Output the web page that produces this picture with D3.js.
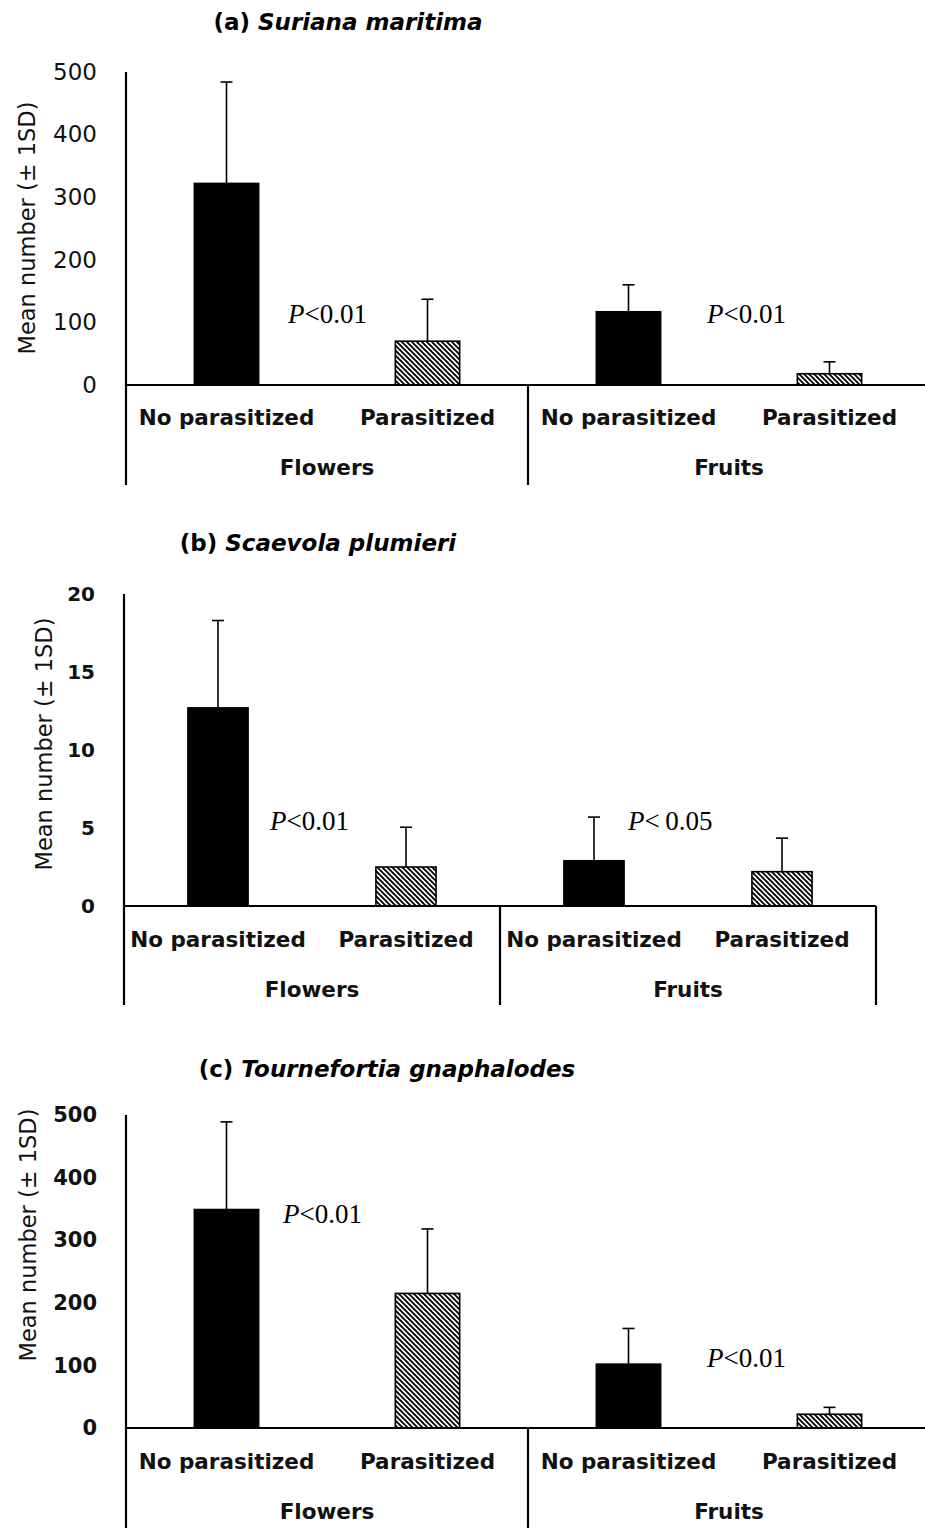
<!DOCTYPE html>
<html>
<head>
<meta charset="utf-8">
<script src="https://cdn.jsdelivr.net/npm/d3@7"></script>
<style>
    html, body { margin: 0; padding: 0; background: #fff; }
    svg { display: block; }
    .v-tick text { fill: #111; }
</style>
</head>
<body>
<div id="chart"></div>
<script>
// categories
var groups = ['Flowers', 'Fruits'];
var conditions = ['No parasitized', 'Parasitized'];

// (a) Suriana maritima
var surianaMeans = [322, 70, 117, 18];
var surianaSD = [162, 67, 43, 19];
// (b) Scaevola plumieri
var scaevolaMeans = [12.7, 2.5, 2.9, 2.2];
var scaevolaSD = [5.6, 2.55, 2.8, 2.15];
// (c) Tournefortia gnaphalodes
var tournefortiaMeans = [349, 215, 102, 22];
var tournefortiaSD = [140, 103, 57, 11];

var ticks500 = [0, 100, 200, 300, 400, 500];
var ticks20 = [0, 5, 10, 15, 20];

var WIDTH = 925, HEIGHT = 1528;
var FONT = '"DejaVu Sans", "Open Sans", sans-serif';
var SERIF = '"Liberation Serif", "Times New Roman", serif';

//每个面板的布局
var panels = [
    {
        letter: '(a) ', name: 'Suriana maritima', titleX: 348, titleY: 30,
        means: surianaMeans, sds: surianaSD, max: 500, ticks: ticks500,
        x0: 126, step: 201, yTop: 72, yZero: 385, bottom: 485, clipRight: WIDTH, rightLine: false,
        tickWeight: 'normal', tickSize: 23, labelX: 27, labelY: 228,
        catY: 425, groupY: 475,
        pvals: [{x: 288, y: 323, t: '<0.01'}, {x: 707, y: 323, t: '<0.01'}]
    },
    {
        letter: '(b) ', name: 'Scaevola plumieri', titleX: 318, titleY: 551,
        means: scaevolaMeans, sds: scaevolaSD, max: 20, ticks: ticks20,
        x0: 124, step: 188, yTop: 594, yZero: 906, bottom: 1005, clipRight: 876, rightLine: true,
        tickWeight: 'bold', tickSize: 20, labelX: 44, labelY: 744,
        catY: 947, groupY: 997,
        pvals: [{x: 270, y: 830, t: '<0.01'}, {x: 628, y: 830, t: '<\u20090.05'}]
    },
    {
        letter: '(c) ', name: 'Tournefortia gnaphalodes', titleX: 387, titleY: 1077,
        means: tournefortiaMeans, sds: tournefortiaSD, max: 500, ticks: ticks500,
        x0: 126, step: 201, yTop: 1115, yZero: 1428, bottom: 1528, clipRight: WIDTH, rightLine: false,
        tickWeight: 'bold', tickSize: 21, labelX: 28, labelY: 1235,
        catY: 1469, groupY: 1519,
        pvals: [{x: 283, y: 1223, t: '<0.01'}, {x: 707, y: 1367, t: '<0.01'}]
    }
];

var svg = d3.select('#chart').append('svg')
    .attr('width', WIDTH)
    .attr('height', HEIGHT)
    .style('font-family', FONT);

//斜线填充
var pattern = svg.append('defs').append('pattern')
    .attr('id', 'hatch')
    .attr('patternUnits', 'userSpaceOnUse')
    .attr('width', 5)
    .attr('height', 5);
pattern.append('rect').attr('width', 5).attr('height', 5).attr('fill', '#fff');
pattern.append('path')
    .attr('d', 'M-1,-1 L6,6 M-1,4 L1,6 M4,-1 L6,1')
    .attr('stroke', '#000')
    .attr('stroke-width', 1.9);

var keys = [];
groups.forEach(function (g) {
    conditions.forEach(function (c) { keys.push(g + '|' + c); });
});

panels.forEach(function (p) {
    var g = svg.append('g').attr('class', 'v-panel');

    var x = d3.scaleBand()
        .domain(keys)
        .range([p.x0, p.x0 + p.step * keys.length])
        .paddingInner(0.68)
        .paddingOuter(0.34);
    var y = d3.scaleLinear()
        .domain([0, p.max])
        .range([p.yZero, p.yTop]);

    var data = keys.map(function (k, i) {
        return {key: k, group: k.split('|')[0], cond: k.split('|')[1], mean: p.means[i], sd: p.sds[i]};
    });

    // title
    g.append('text')
        .attr('x', p.titleX)
        .attr('y', p.titleY)
        .attr('text-anchor', 'middle')
        .style('font-size', '23px')
        .style('font-weight', 'bold')
        .call(function (t) {
            t.append('tspan').text(p.letter);
            t.append('tspan').style('font-style', 'italic').text(p.name);
        });

    // y axis ticks
    var axis = g.append('g')
        .attr('class', 'v-tick')
        .attr('transform', 'translate(' + p.x0 + ',0)')
        .call(d3.axisLeft(y).tickValues(p.ticks).tickSize(0).tickPadding(29));
    axis.select('.domain').remove();
    axis.selectAll('text')
        .style('font-family', FONT)
        .style('font-size', p.tickSize + 'px')
        .style('font-weight', p.tickWeight);

    g.append('text')
        .attr('transform', 'translate(' + p.labelX + ',' + p.labelY + ') rotate(-90)')
        .attr('text-anchor', 'middle')
        .attr('dominant-baseline', 'central')
        .style('font-size', '22.5px')
        .style('fill', '#111')
        .text('Mean number (\u00b1 1SD)');

    // bars
    g.selectAll('rect.v-bar')
        .data(data)
        .enter()
        .append('rect')
        .attr('class', 'v-bar')
        .attr('x', d => x(d.key))
        .attr('width', x.bandwidth())
        .attr('y', d => y(d.mean))
        .attr('height', d => y(0) - y(d.mean))
        .attr('fill', d => d.cond === 'Parasitized' ? 'url(#hatch)' : '#000')
        .attr('stroke', '#000')
        .attr('stroke-width', 1.6);

    // error bars (+1SD)
    var err = g.selectAll('g.v-err')
        .data(data)
        .enter()
        .append('g')
        .attr('class', 'v-err')
        .attr('stroke', '#000')
        .attr('stroke-width', 1.6);
    err.append('line')
        .attr('x1', d => x(d.key) + x.bandwidth() / 2)
        .attr('x2', d => x(d.key) + x.bandwidth() / 2)
        .attr('y1', d => y(d.mean))
        .attr('y2', d => y(d.mean + d.sd));
    err.append('line')
        .attr('x1', d => x(d.key) + x.bandwidth() / 2 - 6)
        .attr('x2', d => x(d.key) + x.bandwidth() / 2 + 6)
        .attr('y1', d => y(d.mean + d.sd))
        .attr('y2', d => y(d.mean + d.sd));

    // axis lines
    var xEnd = Math.min(p.clipRight, p.x0 + p.step * keys.length);
    var lines = g.append('g').attr('stroke', '#000').attr('stroke-width', 2.2).attr('fill', 'none');
    lines.append('line').attr('x1', p.x0).attr('x2', p.x0).attr('y1', p.yTop).attr('y2', p.bottom);
    lines.append('line').attr('x1', p.x0).attr('x2', xEnd).attr('y1', y(0)).attr('y2', y(0));
    var mid = p.x0 + p.step * conditions.length;
    lines.append('line').attr('x1', mid).attr('x2', mid).attr('y1', y(0)).attr('y2', p.bottom);
    if (p.rightLine) {
        lines.append('line').attr('x1', xEnd).attr('x2', xEnd).attr('y1', y(0)).attr('y2', p.bottom);
    }

    // category labels
    g.selectAll('text.v-cat')
        .data(data)
        .enter()
        .append('text')
        .attr('class', 'v-cat')
        .attr('x', d => x(d.key) + x.bandwidth() / 2)
        .attr('y', p.catY)
        .attr('text-anchor', 'middle')
        .style('font-size', '21.5px')
        .style('font-weight', 'bold')
        .style('fill', '#111')
        .text(d => d.cond);

    g.selectAll('text.v-group')
        .data(groups)
        .enter()
        .append('text')
        .attr('class', 'v-group')
        .attr('x', (d, i) => p.x0 + p.step * conditions.length * (i + 0.5))
        .attr('y', p.groupY)
        .attr('text-anchor', 'middle')
        .style('font-size', '21.5px')
        .style('font-weight', 'bold')
        .style('fill', '#111')
        .text(d => d);

    // p values
    p.pvals.forEach(function (pv) {
        var t = g.append('text')
            .attr('x', pv.x)
            .attr('y', pv.y)
            .style('font-family', SERIF)
            .style('font-size', '27px');
        t.append('tspan').style('font-style', 'italic').text('P');
        t.append('tspan').text(pv.t);
    });
});
</script>
</body>
</html>
